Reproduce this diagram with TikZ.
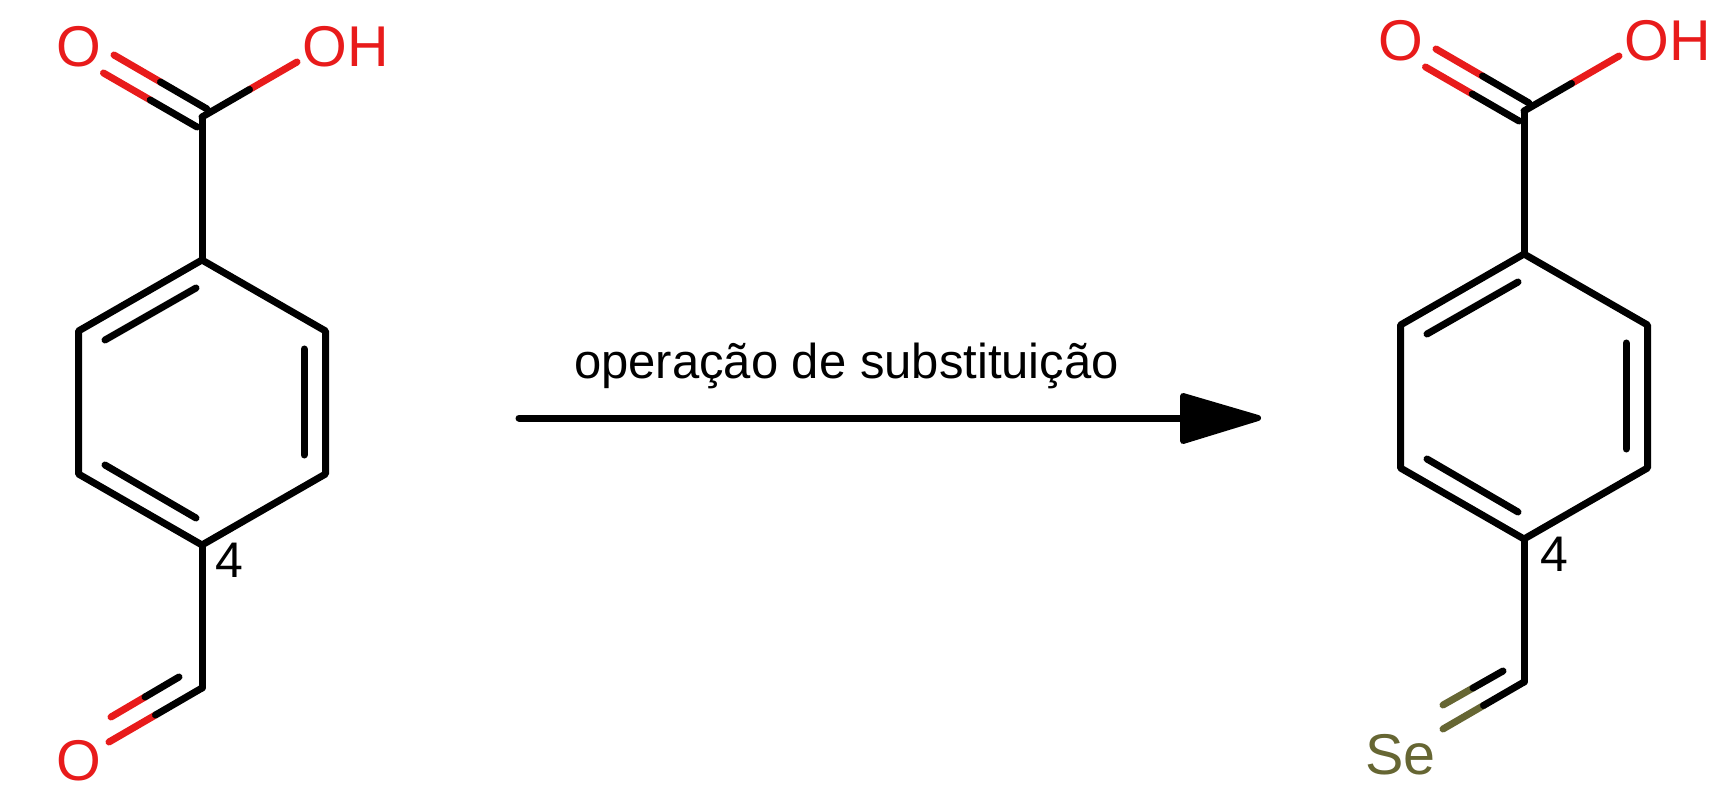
\documentclass[tikz,border=0pt]{standalone}
\usepackage{fontspec}
\setmainfont{Liberation Sans}
\usetikzlibrary{calc}
\definecolor{oxy}{HTML}{E81B1B}
\definecolor{sel}{HTML}{666633}
\tikzset{
  x=1pt,y=-1pt,
  bond/.style={line width=7pt,line cap=round,line join=round,draw=black},
  atom/.style={inner sep=0pt,outer sep=0pt,anchor=base,font=\fontsize{57.5}{66}\selectfont},
  locant/.style={inner sep=0pt,outer sep=0pt,anchor=base,font=\fontsize{50}{58}\selectfont,text=black},
  caption/.style={inner sep=0pt,outer sep=0pt,anchor=base,font=\fontsize{49}{58}\selectfont,text=black},
}
% half black, half coloured bond: #1 black end, #2 coloured end, #3 colour
\newcommand{\twotone}[3]{%
  \draw[bond,draw=#3] ($(#1)!0.5!(#2)$) -- (#2);
  \draw[bond] (#1) -- ($(#1)!0.5!(#2)$);
}
\newcommand{\coremol}{%
  \coordinate (c7) at (202,117);
  \coordinate (r1) at (202,260);
  \coordinate (r2) at (325.5,331);
  \coordinate (r3) at (325.5,474);
  \coordinate (r4) at (202,545);
  \coordinate (r5) at (78.5,474);
  \coordinate (r6) at (78.5,331);
  \coordinate (c8) at (202,688);
  \coordinate (i1a) at (196,288); \coordinate (i1b) at (105,340);
  \coordinate (i2a) at (304,349); \coordinate (i2b) at (304,455);
  \coordinate (i3a) at (105,465); \coordinate (i3b) at (196,518);
  \coordinate (d1a) at (197,127); \coordinate (d1b) at (103.5,73);
  \coordinate (d2a) at (207,109); \coordinate (d2b) at (114,55);
  \coordinate (ohb) at (297,62);
  \draw[bond] (r1) -- (r2) -- (r3) -- (r4) -- (r5) -- (r6) -- cycle;
  \draw[bond] (c7) -- (r1);
  \draw[bond] (r4) -- (c8);
  \draw[bond] (i1a) -- (i1b);
  \draw[bond] (i2a) -- (i2b);
  \draw[bond] (i3a) -- (i3b);
  \twotone{d1a}{d1b}{oxy}
  \twotone{d2a}{d2b}{oxy}
  \twotone{c7}{ohb}{oxy}
  \node[atom,text=oxy] (o1) at (78.5,67) {O};
  \node[atom,text=oxy] (oh) at (345.5,67) {OH};
}
\begin{document}
\begin{tikzpicture}
\useasboundingbox (0,0) rectangle (1722,794);
\begin{scope}[name prefix=a-]
  \coremol
  \coordinate (e1) at (109,742);
  \coordinate (e2a) at (179,677);
  \coordinate (e2b) at (111,717);
  \twotone{c8}{e1}{oxy}
  \twotone{e2a}{e2b}{oxy}
  \node[atom,text=oxy] (o2) at (78.5,780) {O};
  \node[locant] (n4) at (229,577) {4};
\end{scope}
\begin{scope}[shift={(1322,-6)},name prefix=b-]
  \coremol
  \coordinate (e1) at (121,735);
  \coordinate (e2a) at (181,677);
  \coordinate (e2b) at (121,711);
  \twotone{c8}{e1}{sel}
  \twotone{e2a}{e2b}{sel}
  \node[atom,text=sel] (se) at (78.5,780) {Se};
  \node[locant] (n4) at (232,577) {4};
\end{scope}
\coordinate (as) at (519,418);
\coordinate (ab) at (1183,418);
\coordinate (at) at (1258,418);
\coordinate (au) at (1183,396);
\coordinate (al) at (1183,441);
\draw[bond] (as) -- (ab);
\fill[black,draw=black,line width=6pt,line join=round] (au) -- (at) -- (al) -- cycle;
\node[caption] (lab) at (846.5,378.5) {operação de substituição};
\end{tikzpicture}
\end{document}
